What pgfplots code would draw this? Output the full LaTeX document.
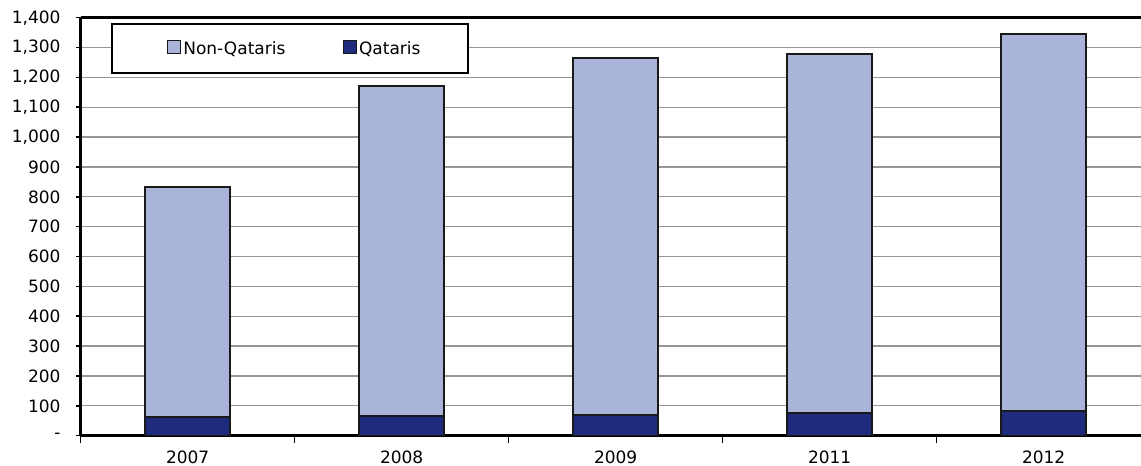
\documentclass[border=0pt]{standalone}
\usepackage{pgfplots}
\pgfplotsset{compat=1.18}
\usepackage{fontspec}
\setmainfont{DejaVu Sans}

\definecolor{nonqatari}{RGB}{170,180,216}
\definecolor{qatari}{RGB}{31,43,125}
\definecolor{gridgray}{RGB}{150,150,150}
\definecolor{baredge}{RGB}{25,25,25}

% Population by nationality, thousands
\pgfplotstableread{
x  year  qataris  nonqataris
0  2007  62       770
1  2008  67       1103
2  2009  71       1194
3  2011  77       1200
4  2012  83       1262
}\popdata

\begin{document}
\fontsize{17}{20}\selectfont
\begin{tikzpicture}
% the chart frame runs past the right edge of the page
\path[use as bounding box, clip] (-80.7pt,-30.3pt) rectangle (1060.3pt,435.7pt);
\begin{axis}[
  at={(0pt,0pt)}, anchor=south west,
  scale only axis, width=1284pt, height=418pt,
  xmin=-0.5, xmax=5.5, ymin=0, ymax=1400,
  ybar stacked, bar width=0.4,
  axis x line=bottom, axis y line=left,
  axis line style={black, line width=2.5pt, -},
  tick align=outside,
  xtick={0,1,2,3,4},
  xticklabels={2007,2008,2009,2011,2012},
  major x tick style={draw=none},
  minor xtick={-0.5,0.5,1.5,2.5,3.5},
  minor x tick style={black, line width=1.6pt},
  minor tick length=7pt,
  ytick={0,100,...,1400},
  yticklabels={-,100,200,300,400,500,600,700,800,900,{1,000},{1,100},{1,200},{1,300},{1,400}},
  major y tick style={black, line width=1.6pt},
  major tick length=5pt,
  ymajorgrids,
  grid style={gridgray, line width=1.3pt},
  xticklabel style={anchor=north, inner sep=0pt, yshift=-10pt, font=\fontsize{17}{20}\selectfont},
  yticklabel style={anchor=east, inner sep=0pt, xshift=-15pt, font=\fontsize{17}{20}\selectfont},
  legend columns=2,
  reverse legend,
  legend style={
    at={(axis description cs:0.023364,0.98804)}, anchor=north west,
    draw=black, line width=2pt, fill=white,
    inner xsep=47pt, inner ysep=16pt,
    font=\fontsize{17}{20}\selectfont,
    nodes={inner sep=0pt},
    /tikz/every odd column/.append style={column sep=2pt},
    /tikz/every even column/.append style={column sep=49pt},
  },
  legend image code/.code={
    \path (-8pt,0pt);
    \draw[#1, line width=1.3pt] (0pt,-4.5pt) rectangle (13pt,8.5pt);
  },
  % top edge of the plot frame
  after end axis/.code={
    \draw[black, line width=2.5pt] (rel axis cs:0,1) -- (rel axis cs:1,1);
  },
]
\addplot[fill=qatari, draw=baredge, line width=2pt] table[x=x, y=qataris] {\popdata};
\addlegendentry{Qataris}
\addplot[fill=nonqatari, draw=baredge, line width=2pt] table[x=x, y=nonqataris] {\popdata};
\addlegendentry{Non-Qataris}
\end{axis}
\end{tikzpicture}
\end{document}
